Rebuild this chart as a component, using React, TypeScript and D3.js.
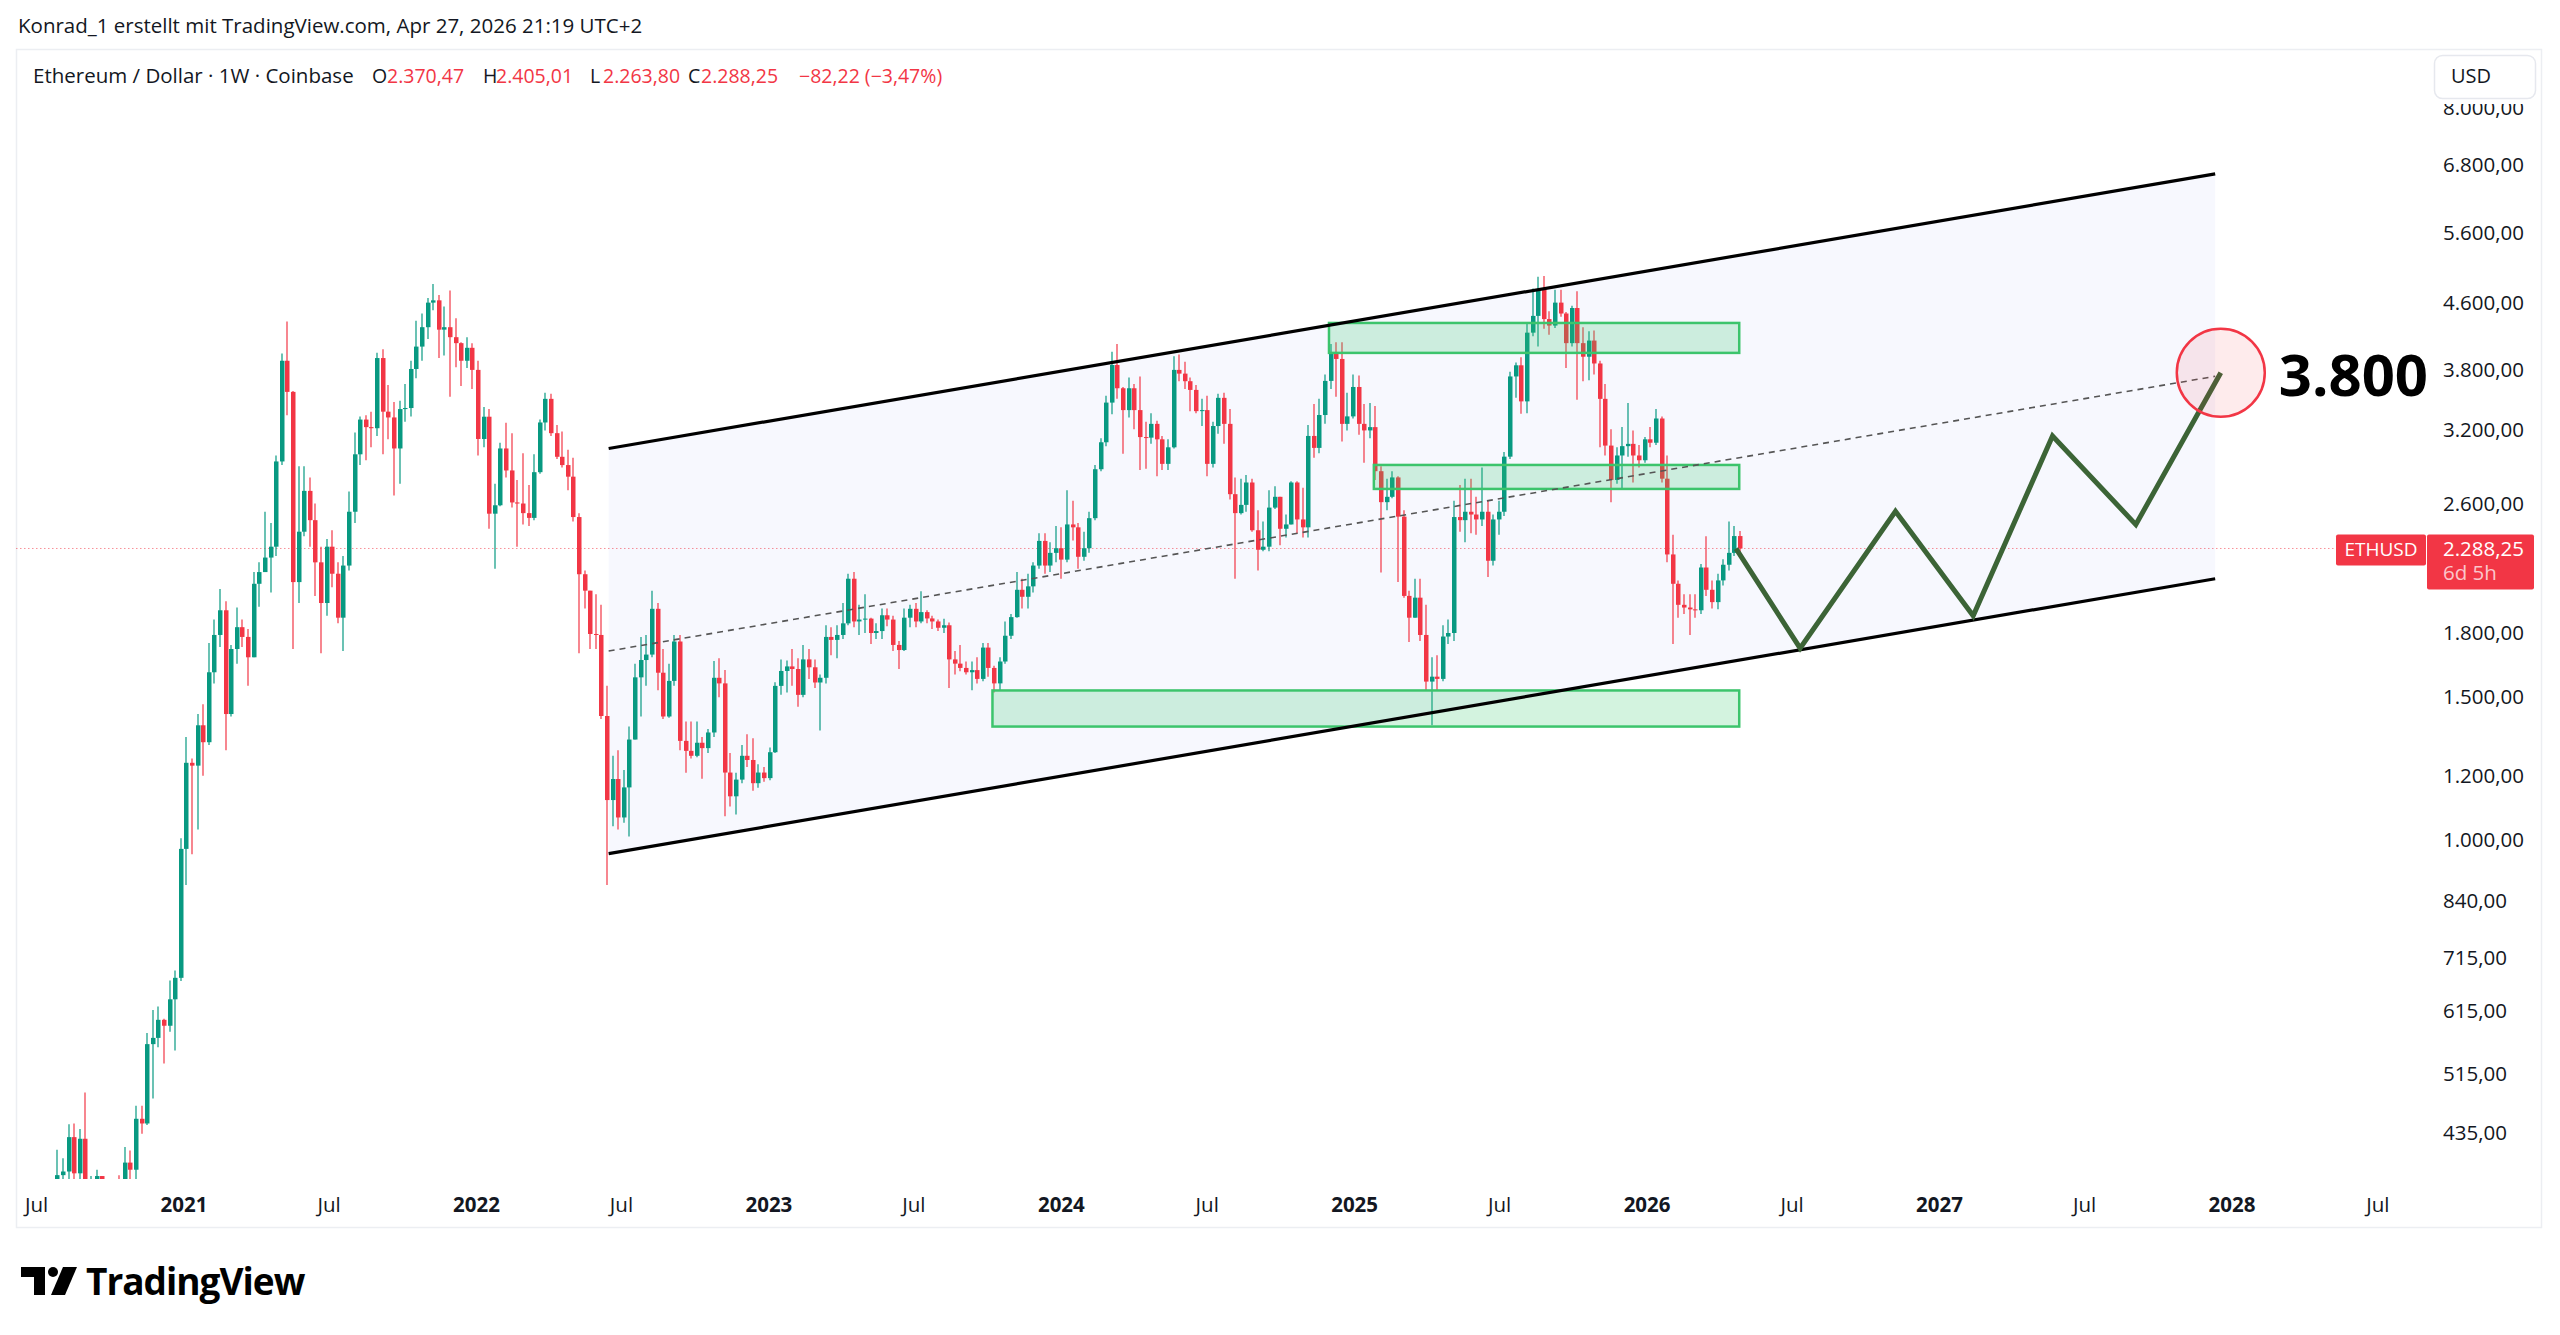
import React from 'react';
import * as d3 from 'd3';

// Coinbase ETHUSD, weekly bars, first bar = week starting 20 Jul 2020
const firstWeek = '2020-07-20';
const firstOpen = 236;

const close2020 = [310, 386, 390, 430, 388, 428, 353, 365, 385, 355, 353, 370, 368, 400, 392, 453, 447, 560, 570, 600, 590, 636, 676, 975];
const high2020 = [325, 415, 405, 446, 447, 440, 488, 385, 392, 380, 370, 375, 386, 418, 414, 470, 470, 578, 617, 623, 602, 671, 690, 1005];
const low2020 = [236, 305, 358, 377, 370, 375, 310, 310, 355, 310, 335, 335, 360, 365, 370, 375, 434, 445, 480, 555, 530, 580, 550, 670];

const close2021 = [1245, 1235, 1385, 1320, 1610, 1790, 1920, 1430, 1720, 1830, 1780, 1680, 2070, 2140, 2230, 2300, 2930, 3900, 3570, 2080, 2400, 2695, 2480, 2200, 1960, 2300, 2130, 1880, 2180, 2540, 2990, 3300, 3230, 3220, 3930, 3375, 3320, 3040, 3400, 3410, 3810, 4060, 4290, 4600, 4630, 4260, 4290, 4170, 4100, 3900, 4046, 3800];
const high2021 = [1340, 1260, 1430, 1470, 1750, 1870, 2040, 1970, 1740, 1935, 1870, 1820, 2140, 2200, 2540, 2460, 2980, 3980, 4360, 3580, 2890, 2890, 2800, 2600, 2300, 2350, 2410, 2200, 2240, 2690, 3180, 3330, 3340, 3375, 3990, 4030, 3640, 3470, 3480, 3650, 3900, 4370, 4460, 4660, 4850, 4700, 4550, 4760, 4400, 4110, 4170, 4100];
const low2021 = [880, 960, 1030, 1200, 1310, 1560, 1730, 1290, 1420, 1650, 1730, 1550, 1680, 1940, 2140, 2020, 2240, 2900, 3340, 1720, 1960, 2370, 2300, 2000, 1700, 1890, 2050, 1850, 1710, 2150, 2460, 2900, 2940, 3050, 3150, 2990, 3120, 2660, 2750, 3280, 3330, 3710, 3900, 4150, 4500, 3930, 3960, 3520, 3830, 3630, 3820, 3600];

const close2022 = [3123, 3327, 2526, 2587, 3040, 2856, 2608, 2600, 2530, 2496, 2842, 3273, 3500, 3175, 2969, 2900, 2806, 2502, 2127, 2030, 1795, 1790, 1422, 1120, 1189, 1066, 1161, 1330, 1587, 1667, 1693, 1928, 1608, 1420, 1571, 1757, 1325, 1288, 1270, 1318, 1298, 1357, 1585, 1560, 1211, 1132, 1187, 1270, 1255, 1175, 1211, 1192];
const high2022 = [3900, 3420, 3400, 2750, 3090, 3270, 3175, 2780, 3000, 2740, 2990, 3300, 3560, 3550, 3250, 3190, 3030, 2960, 2530, 2150, 2030, 2010, 1950, 1550, 1270, 1290, 1220, 1380, 1650, 1780, 1790, 2030, 1960, 1720, 1650, 1790, 1790, 1400, 1400, 1400, 1340, 1370, 1662, 1676, 1620, 1280, 1210, 1310, 1350, 1335, 1240, 1230];
const low2022 = [2980, 3050, 2420, 2160, 2580, 2800, 2570, 2300, 2450, 2440, 2480, 2830, 3200, 3150, 2950, 2880, 2700, 2470, 1700, 1930, 1720, 1720, 1410, 880, 1040, 1030, 1050, 1010, 1330, 1420, 1550, 1680, 1530, 1410, 1415, 1550, 1290, 1210, 1260, 1265, 1190, 1280, 1340, 1500, 1070, 1100, 1075, 1175, 1230, 1150, 1160, 1180];

const close2023 = [1283, 1549, 1616, 1637, 1625, 1510, 1670, 1633, 1564, 1585, 1780, 1765, 1790, 1850, 2100, 1860, 1870, 1875, 1800, 1810, 1893, 1870, 1740, 1715, 1880, 1928, 1860, 1910, 1876, 1860, 1827, 1840, 1670, 1650, 1630, 1610, 1620, 1580, 1727, 1630, 1560, 1660, 1786, 1883, 2035, 1995, 2055, 2180, 2338, 2180, 2260, 2290];
const high2023 = [1300, 1565, 1670, 1665, 1720, 1675, 1740, 1720, 1670, 1600, 1840, 1830, 1840, 1960, 2130, 2140, 1950, 2010, 1880, 1850, 1930, 1930, 1890, 1760, 1930, 1950, 1960, 2027, 1920, 1890, 1870, 1875, 1855, 1710, 1740, 1660, 1660, 1680, 1750, 1750, 1640, 1680, 1860, 1900, 2140, 2100, 2130, 2200, 2390, 2390, 2330, 2440];
const low2023 = [1185, 1280, 1510, 1520, 1550, 1460, 1500, 1580, 1540, 1365, 1560, 1690, 1675, 1770, 1840, 1830, 1790, 1800, 1745, 1770, 1770, 1835, 1710, 1625, 1710, 1830, 1830, 1850, 1850, 1820, 1810, 1800, 1540, 1600, 1615, 1600, 1530, 1560, 1570, 1590, 1520, 1530, 1650, 1770, 1880, 1930, 1930, 2020, 2160, 2130, 2140, 2200];

const close2024 = [2217, 2450, 2430, 2235, 2290, 2494, 2866, 3094, 3463, 3853, 3607, 3390, 3607, 3390, 3140, 3135, 3260, 3120, 2910, 3050, 3800, 3760, 3680, 3590, 3380, 3390, 2910, 3240, 3510, 3260, 2670, 2530, 2590, 2760, 2410, 2280, 2300, 2570, 2650, 2420, 2450, 2760, 2485, 2430, 3150, 3045, 3343, 3683, 3976, 3920, 3260, 3330, 3620];
const high2024 = [2430, 2700, 2620, 2460, 2400, 2540, 2900, 3130, 3530, 4000, 4090, 3620, 3720, 3650, 3730, 3280, 3360, 3290, 3150, 3120, 3950, 3970, 3890, 3720, 3640, 3500, 3530, 3280, 3550, 3560, 3400, 2800, 2790, 2820, 2790, 2550, 2470, 2700, 2730, 2650, 2520, 2770, 2770, 2720, 3250, 3450, 3500, 3750, 4090, 4110, 4110, 3560, 3750];
const low2024 = [2100, 2200, 2340, 2160, 2210, 2260, 2480, 2850, 3060, 3350, 3500, 2995, 3320, 3210, 2860, 2870, 3080, 2810, 2860, 2860, 3040, 3680, 3600, 3380, 3360, 3240, 2810, 2880, 3170, 3080, 2630, 2100, 2520, 2540, 2400, 2150, 2270, 2270, 2560, 2310, 2360, 2450, 2390, 2360, 2360, 2960, 3000, 3260, 3600, 3520, 3100, 3200, 3310];

const close2025 = [3260, 3200, 3230, 2850, 2610, 2650, 2800, 2505, 2000, 1880, 1990, 1790, 1568, 1590, 1580, 1782, 1800, 2502, 2480, 2540, 2520, 2485, 2540, 2210, 2485, 2540, 2970, 3730, 3850, 3475, 4224, 4430, 4780, 4390, 4310, 4600, 4460, 4100, 4530, 4100, 3945, 4130, 3870, 3500, 3065, 2780, 2980, 3060, 3080, 2980, 2940, 3120];
const high2025 = [3740, 3450, 3460, 3430, 2890, 2790, 2850, 2810, 2550, 2030, 2100, 2100, 1950, 1680, 1690, 1840, 1870, 2620, 2740, 2790, 2790, 2650, 2880, 2620, 2520, 2620, 3010, 3780, 3880, 3940, 4330, 4790, 4950, 4960, 4490, 4770, 4770, 4480, 4560, 4750, 4290, 4240, 4250, 3900, 3650, 3210, 3050, 3230, 3460, 3200, 3070, 3140];
const low2025 = [3160, 2920, 3130, 2780, 2138, 2550, 2640, 2080, 1990, 1755, 1880, 1760, 1531, 1385, 1530, 1570, 1745, 1760, 2400, 2330, 2390, 2380, 2440, 2110, 2180, 2380, 2510, 2950, 3510, 3355, 3360, 4180, 4060, 4270, 4200, 4280, 4420, 3820, 4060, 3490, 3680, 3690, 3750, 3050, 2980, 2610, 2750, 2710, 2970, 2760, 2880, 2920];

const close2026 = [3090, 3310, 2790, 2250, 2070, 1950, 1935, 1925, 1920, 2168, 2035, 1965, 2090, 2185, 2260, 2370.47, 2288.25];
const high2026 = [3230, 3400, 3330, 2980, 2380, 2090, 2010, 2010, 2010, 2190, 2370, 2090, 2130, 2220, 2470, 2440, 2405.01];
const low2026 = [3050, 3070, 2760, 2200, 1745, 1880, 1900, 1790, 1880, 1900, 2000, 1930, 1925, 2060, 2150, 2240, 2263.8];

// drawings (date, price)
const channelDates = ['2022-06-15', '2027-12-11'];
const channelTop = [3040, 6630];
const channelBottom = [962, 2100];

const zoneStart = ['2024-11-30', '2025-01-25', '2023-10-07'];
const zoneEnd = '2026-04-26';
const zoneTop = [4342, 2901, 1529];
const zoneBottom = [3988, 2710, 1380];

const forecastDates = ['2026-04-22', '2026-07-11', '2026-11-07', '2027-02-12', '2027-05-22', '2027-09-03', '2027-12-18'];
const forecastPrices = [2288, 1724, 2543, 1890, 3150, 2449, 3769];
const targetLabel = '3.800';

const priceTicks = [8000, 6800, 5600, 4600, 3800, 3200, 2600, 1800, 1500, 1200, 1000, 840, 715, 615, 515, 435];
const timeTickDates = ['2020-07-01', '2021-01-01', '2021-07-01', '2022-01-01', '2022-07-01', '2023-01-01', '2023-07-01', '2024-01-01', '2024-07-01', '2025-01-01', '2025-07-01', '2026-01-01', '2026-07-01', '2027-01-01', '2027-07-01', '2028-01-01', '2028-07-01'];
const timeTickLabels = ['Jul', '2021', 'Jul', '2022', 'Jul', '2023', 'Jul', '2024', 'Jul', '2025', 'Jul', '2026', 'Jul', '2027', 'Jul', '2028', 'Jul'];

const GREEN = '#089981';
const RED = '#f23645';
const TEXT = '#131722';

const utc = (s: string) => new Date(s + 'T00:00:00Z');
const de = d3.formatLocale({ decimal: ',', thousands: '.', grouping: [3], currency: ['', ''] });
const fmt = de.format(',.2f');

export default function App() {
  const W = 2560;
  const H = 1335;

  const closes = [...close2020, ...close2021, ...close2022, ...close2023, ...close2024, ...close2025, ...close2026];
  const highs = [...high2020, ...high2021, ...high2022, ...high2023, ...high2024, ...high2025, ...high2026];
  const lows = [...low2020, ...low2021, ...low2022, ...low2023, ...low2024, ...low2025, ...low2026];
  const t0 = utc(firstWeek).getTime();
  const candles = closes.map((c, i) => ({
    t: new Date(t0 + i * 7 * 864e5),
    o: i === 0 ? firstOpen : closes[i - 1],
    h: highs[i],
    l: lows[i],
    c,
  }));
  const last = candles[candles.length - 1];
  const prevClose = candles[candles.length - 2].c;

  // scales
  const x = d3.scaleUtc().domain([utc('2021-01-01'), utc('2028-01-01')]).range([184, 2232]);
  const y = d3.scaleLog().domain([1800, 6800]).range([633, 165]);

  const plot = { left: 16, top: 49, right: 2428, bottom: 1179 };

  const cx0 = x(utc(channelDates[0]));
  const cx1 = x(utc(channelDates[1]));
  const topY = channelTop.map((p) => y(p));
  const botY = channelBottom.map((p) => y(p));
  const midY = [(topY[0] + botY[0]) / 2, (topY[1] + botY[1]) / 2];

  const line = d3
    .line<number>()
    .x((_, i) => x(utc(forecastDates[i])))
    .y((p) => y(p));

  const tx = x(utc(forecastDates[forecastDates.length - 1]));
  const ty = y(forecastPrices[forecastPrices.length - 1]);
  const lastY = y(last.c);

  const chg = last.c - prevClose;
  const chgPct = (chg / prevClose) * 100;
  const minus = (s: string) => s.replace('-', '\u2212');

  return (
    <div style={{ position: 'fixed', left: 0, top: 0, width: W, height: H, background: '#fff' }}>
      <svg width={W} height={H} style={{ display: 'block' }} fontFamily="'Open Sans', sans-serif">
        <defs>
          <clipPath id="plotClip">
            <rect x={plot.left} y={plot.top} width={plot.right - plot.left} height={plot.bottom - plot.top} />
          </clipPath>
          <clipPath id="axisClip">
            <rect x={2430} y={104} width={110} height={plot.bottom - 104} />
          </clipPath>
        </defs>

        {/* header */}
        <text x={18} y={33} fontSize={20.5} fill={TEXT}>
          Konrad_1 erstellt mit TradingView.com, Apr 27, 2026 21:19 UTC+2
        </text>

        {/* frame */}
        <rect x={16.5} y={49.5} width={2525} height={1178} fill="none" stroke="#eceef2" strokeWidth={1.5} />

        <g clipPath="url(#plotClip)">
          {/* channel background */}
          <polygon
            points={`${cx0},${topY[0]} ${cx1},${topY[1]} ${cx1},${botY[1]} ${cx0},${botY[0]}`}
            fill="#f7f8fe"
          />

          {/* current price line */}
          <line x1={plot.left} x2={2336} y1={lastY} y2={lastY} stroke={RED} strokeOpacity={0.55} strokeDasharray="1.5 2.5" strokeWidth={1} />

          {/* candles */}
          {candles.map((d, i) => {
            const px = Math.round(x(d.t));
            const col = d.c >= d.o ? GREEN : RED;
            const yt = y(Math.max(d.o, d.c));
            const yb = y(Math.min(d.o, d.c));
            return (
              <g key={i}>
                <line x1={px} x2={px} y1={y(Math.max(d.h, d.o, d.c))} y2={y(Math.min(d.l, d.o, d.c))} stroke={col} strokeWidth={1.2} />
                <rect x={px - 2} y={yt} width={4.5} height={Math.max(1, yb - yt)} fill={col} />
              </g>
            );
          })}

          {/* zones */}
          {zoneStart.map((d, i) => (
            <rect
              key={i}
              x={x(utc(d))}
              y={y(zoneTop[i])}
              width={x(utc(zoneEnd)) - x(utc(d))}
              height={y(zoneBottom[i]) - y(zoneTop[i])}
              fill="rgba(56,200,110,0.22)"
              stroke="#3cc46c"
              strokeWidth={2.5}
            />
          ))}

          {/* channel lines */}
          <line x1={cx0} y1={topY[0]} x2={cx1} y2={topY[1]} stroke="#000" strokeWidth={3.2} />
          <line x1={cx0} y1={botY[0]} x2={cx1} y2={botY[1]} stroke="#000" strokeWidth={3.2} />
          <line x1={cx0} y1={midY[0]} x2={cx1} y2={midY[1]} stroke="#555" strokeWidth={1.6} strokeDasharray="6 5" />

          {/* forecast path */}
          <path d={line(forecastPrices) || ''} fill="none" stroke="#3c6436" strokeWidth={5} strokeLinejoin="miter" />

          {/* target */}
          <circle cx={tx} cy={ty} r={44} fill="rgba(242,54,69,0.1)" stroke={RED} strokeWidth={2.5} />
          <text x={tx + 58} y={ty + 23} fontSize={58} fontWeight={700} fill="#000">
            {targetLabel}
          </text>

          {/* symbol label */}
          <rect x={2336} y={lastY - 14} width={90} height={31} rx={2} fill={RED} />
          <text x={2381} y={lastY + 8} fontSize={19} fill="#fff" textAnchor="middle">
            ETHUSD
          </text>
        </g>

        {/* legend */}
        <g fontSize={20.5}>
          <text x={33} y={83} fill={TEXT}>Ethereum / Dollar · 1W · Coinbase</text>
        </g>
        <g fontSize={19.5}>
          <text x={372} y={83} fill={TEXT}>O</text>
          <text x={387} y={83} fill={RED}>{fmt(last.o)}</text>
          <text x={483} y={83} fill={TEXT}>H</text>
          <text x={496} y={83} fill={RED}>{fmt(last.h)}</text>
          <text x={590} y={83} fill={TEXT}>L</text>
          <text x={603} y={83} fill={RED}>{fmt(last.l)}</text>
          <text x={688} y={83} fill={TEXT}>C</text>
          <text x={701} y={83} fill={RED}>{fmt(last.c)}</text>
          <text x={799} y={83} fill={RED}>
            {minus(fmt(chg))} ({minus(de.format('.2f')(chgPct))}%)
          </text>
        </g>

        {/* price axis */}
        <g clipPath="url(#axisClip)" fontSize={20.5} fill={TEXT}>
          {priceTicks.map((p) => (
            <text key={p} x={2443} y={y(p) + 7}>
              {fmt(p)}
            </text>
          ))}
        </g>
        <rect x={2427} y={lastY - 14} width={107} height={55} rx={2} fill={RED} />
        <text x={2443} y={lastY + 8} fontSize={20.5} fill="#fff">
          {fmt(last.c)}
        </text>
        <text x={2443} y={lastY + 32} fontSize={20.5} fill="rgba(255,255,255,0.72)">
          6d 5h
        </text>
        <rect x={2434.5} y={55.5} width={101} height={43} rx={8} fill="#fff" stroke="#e6e8ee" strokeWidth={1.5} />
        <text x={2451} y={83} fontSize={20} fill={TEXT}>
          USD
        </text>

        {/* time axis */}
        <g fontSize={20.5} fill={TEXT} textAnchor="middle">
          {timeTickDates.map((d, i) => (
            <text key={d} x={x(utc(d))} y={1212} fontWeight={/^\d/.test(timeTickLabels[i]) ? 700 : 400}>
              {timeTickLabels[i]}
            </text>
          ))}
        </g>

        {/* TradingView logo */}
        <g fill="#000">
          <path d="M21,1267 H45 V1295 H34 V1277 H21 Z" />
          <circle cx={53} cy={1272} r={5} />
          <path d="M63,1267 H77 L65,1295 H51 Z" />
          <text x={86} y={1295} fontSize={37} fontWeight={700} letterSpacing={-1}>
            TradingView
          </text>
        </g>
      </svg>
    </div>
  );
}
